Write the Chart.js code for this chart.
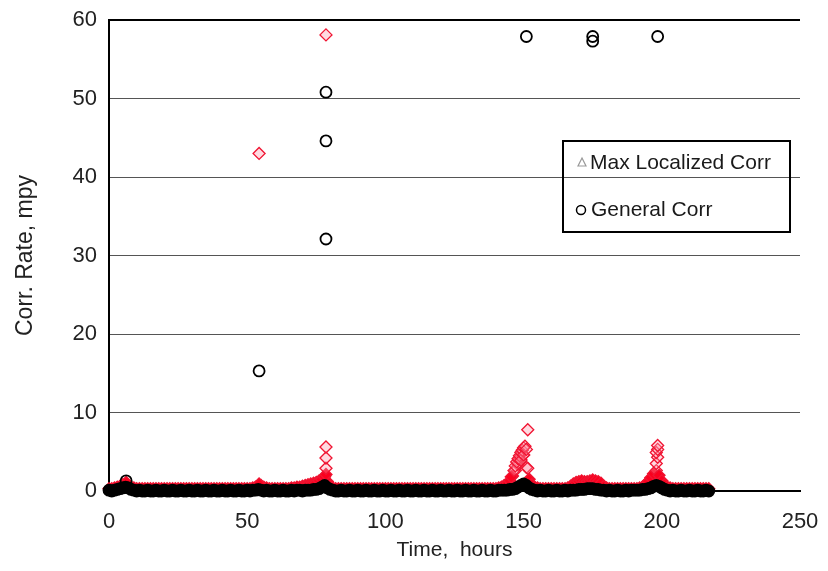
<!DOCTYPE html>
<html>
<head>
<meta charset="utf-8">
<script src="https://cdn.jsdelivr.net/npm/chart.js@4.4.0/dist/chart.umd.min.js"></script>
<style>
  html, body { margin: 0; padding: 0; background: #fff; }
  #wrap { width: 828px; height: 571px; }
</style>
</head>
<body>
<div id="wrap"><canvas id="corrChart" width="828" height="571"></canvas></div>
<script>
// hourly readings, 0 to 217 h
const hours = [
  0,1,2,3,4,5,6,7,8,9, 10,11,12,13,14,15,16,17,18,19, 20,21,22,23,24,25,26,27,28,29,
  30,31,32,33,34,35,36,37,38,39, 40,41,42,43,44,45,46,47,48,49, 50,51,52,53,54,55,56,57,58,59,
  60,61,62,63,64,65,66,67,68,69, 70,71,72,73,74,75,76,77,78,79, 80,81,82,83,84,85,86,87,88,89,
  90,91,92,93,94,95,96,97,98,99, 100,101,102,103,104,105,106,107,108,109, 110,111,112,113,114,115,116,117,118,119,
  120,121,122,123,124,125,126,127,128,129, 130,131,132,133,134,135,136,137,138,139, 140,141,142,143,144,145,146,147,148,149,
  150,151,152,153,154,155,156,157,158,159, 160,161,162,163,164,165,166,167,168,169, 170,171,172,173,174,175,176,177,178,179,
  180,181,182,183,184,185,186,187,188,189, 190,191,192,193,194,195,196,197,198,199, 200,201,202,203,204,205,206,207,208,209,
  210,211,212,213,214,215,216,217];

const generalCorr = [
  0.1,0.0,0.1,0.2,0.3,0.4,0.5,0.4,0.2,0.1, 0.0,0.1,0.0,0.0,0.1,0.0,0.0,0.1,0.0,0.0, 0.1,0.0,0.0,0.1,0.0,0.0,0.1,0.0,0.0,0.1,
  0.0,0.0,0.1,0.0,0.0,0.1,0.0,0.0,0.1,0.0, 0.0,0.1,0.0,0.0,0.1,0.0,0.0,0.1,0.0,0.0, 0.1,0.0,0.1,0.1,0.2,0.1,0.0,0.1,0.0,0.0,
  0.1,0.0,0.0,0.1,0.0,0.0,0.1,0.0,0.1,0.1, 0.0,0.1,0.1,0.1,0.2,0.2,0.3,0.5,0.7,0.4, 0.2,0.1,0.0,0.0,0.1,0.0,0.0,0.1,0.0,0.0,
  0.1,0.0,0.0,0.1,0.0,0.0,0.1,0.0,0.0,0.1, 0.0,0.0,0.1,0.0,0.0,0.1,0.0,0.0,0.1,0.0, 0.0,0.1,0.0,0.0,0.1,0.0,0.0,0.1,0.0,0.0,
  0.1,0.0,0.0,0.1,0.0,0.0,0.1,0.0,0.0,0.1, 0.0,0.0,0.1,0.0,0.0,0.1,0.0,0.0,0.1,0.0, 0.0,0.1,0.1,0.1,0.1,0.2,0.2,0.3,0.5,0.7,
  0.9,0.7,0.4,0.2,0.1,0.0,0.1,0.0,0.0,0.1, 0.0,0.0,0.1,0.0,0.0,0.1,0.0,0.1,0.1,0.1, 0.2,0.2,0.2,0.3,0.3,0.3,0.2,0.2,0.1,0.1,
  0.0,0.1,0.0,0.0,0.1,0.0,0.0,0.1,0.0,0.1, 0.1,0.1,0.1,0.2,0.2,0.3,0.4,0.6,0.7,0.6, 0.4,0.2,0.1,0.0,0.1,0.0,0.0,0.1,0.0,0.0,
  0.1,0.0,0.0,0.1,0.0,0.0,0.1,0.0];

const localizedCorr = [
  0.3,0.3,0.4,0.5,0.6,0.8,0.9,0.7,0.5,0.4, 0.3,0.3,0.3,0.3,0.3,0.3,0.3,0.3,0.3,0.3, 0.3,0.3,0.3,0.3,0.3,0.3,0.3,0.3,0.3,0.3,
  0.3,0.3,0.3,0.3,0.3,0.3,0.3,0.3,0.3,0.3, 0.3,0.3,0.3,0.3,0.3,0.3,0.3,0.3,0.3,0.3, 0.3,0.3,0.4,0.5,0.6,0.7,0.5,0.4,0.3,0.3,
  0.3,0.3,0.3,0.3,0.3,0.3,0.4,0.4,0.5,0.5, 0.6,0.7,0.8,0.9,1.0,1.1,1.3,1.5,1.8,1.2, 0.6,0.4,0.3,0.3,0.3,0.3,0.3,0.3,0.3,0.3,
  0.3,0.3,0.3,0.3,0.3,0.3,0.3,0.3,0.3,0.3, 0.3,0.3,0.3,0.3,0.3,0.3,0.3,0.3,0.3,0.3, 0.3,0.3,0.3,0.3,0.3,0.3,0.3,0.3,0.3,0.3,
  0.3,0.3,0.3,0.3,0.3,0.3,0.3,0.3,0.3,0.3, 0.3,0.3,0.3,0.3,0.3,0.3,0.3,0.3,0.3,0.3, 0.3,0.4,0.5,0.7,0.9,1.3,1.9,2.6,3.3,4.0,
  4.6,3.0,1.5,0.8,0.5,0.4,0.3,0.3,0.3,0.3, 0.3,0.3,0.3,0.3,0.3,0.3,0.4,0.6,0.9,1.1, 1.2,1.3,1.2,1.2,1.3,1.4,1.3,1.2,1.0,0.6,
  0.4,0.3,0.3,0.3,0.3,0.3,0.3,0.3,0.3,0.3, 0.3,0.3,0.4,0.5,0.8,1.2,1.7,2.2,2.6,2.0, 1.3,0.8,0.5,0.4,0.3,0.3,0.3,0.3,0.3,0.3,
  0.3,0.3,0.3,0.3,0.3,0.3,0.3,0.3];

// isolated / excursion readings
const generalSpikeHours = [6.2, 54.3, 78.5, 78.5, 78.5, 151, 175, 175, 198.5];
const generalSpikeCorr  = [1.3, 15.3, 50.8, 44.6, 32.1, 57.9, 57.9, 57.3, 57.9];

const localizedSpikeHours = [6.2, 54.3, 54.3, 78.5, 78.5, 78.5, 78.5, 78.5,
  145.5, 146.5, 147, 147.5, 148, 148.5, 149, 149, 149.5, 150, 150, 150.5, 151, 151.5, 151.5,
  198, 198.5, 198, 198.5, 198.5];
const localizedSpikeCorr = [1.1, 0.9, 43.0, 2.1, 2.9, 4.2, 5.6, 58.1,
  1.8, 2.6, 3.2, 3.7, 4.1, 4.5, 4.9, 3.9, 5.2, 5.5, 4.6, 5.7, 5.3, 7.8, 2.9,
  3.5, 4.3, 4.9, 5.3, 5.8];

const FONT = '"Liberation Sans", Arial, sans-serif';

function toPoints(xs, ys) {
  return xs.map((x, i) => ({ x: x, y: ys[i] }));
}

// legend box drawn inside the plot like the original
const boxLegend = {
  id: 'boxLegend',
  afterDraw(chart) {
    const ctx = chart.ctx;
    ctx.save();
    ctx.strokeStyle = '#000';
    ctx.lineWidth = 2;
    ctx.strokeRect(563, 141, 227, 91);
    ctx.font = '21px ' + FONT;
    ctx.fillStyle = '#1a1a1a';
    ctx.textBaseline = 'middle';
    ctx.fillText('Max Localized Corr', 590, 163);
    ctx.fillText('General Corr', 591, 210);
    // triangle marker
    ctx.strokeStyle = '#999';
    ctx.lineWidth = 1.2;
    ctx.beginPath();
    ctx.moveTo(582, 158);
    ctx.lineTo(586, 166);
    ctx.lineTo(578, 166);
    ctx.closePath();
    ctx.stroke();
    // circle marker
    ctx.strokeStyle = '#000';
    ctx.lineWidth = 1.5;
    ctx.beginPath();
    ctx.arc(581, 210, 4.5, 0, Math.PI * 2);
    ctx.stroke();
    ctx.restore();
  }
};

const data = {
  datasets: [{
    label: 'General Corr',
    data: toPoints(hours, generalCorr).concat(toPoints(generalSpikeHours, generalSpikeCorr)),
    pointStyle: 'circle',
    pointRadius: 5.5,
    pointBorderWidth: 1.8,
    borderColor: '#000',
    backgroundColor: ctx => (ctx.raw && ctx.raw.y < 1) ? '#000' : 'rgba(255,255,255,0)',
    showLine: false,
    clip: false,
    order: 0
  }, {
    label: 'Max Localized Corr',
    data: toPoints(hours, localizedCorr).concat(toPoints(localizedSpikeHours, localizedSpikeCorr)),
    pointStyle: 'rectRot',
    pointRadius: 6,
    pointBorderWidth: 1.3,
    borderColor: 'rgb(240,20,50)',
    backgroundColor: ctx => (ctx.raw && ctx.raw.y < 2.5) ? 'rgb(250,0,30)' : 'rgba(255,150,170,0.35)',
    showLine: false,
    clip: false,
    order: 1
  }]
};

const config = {
  type: 'scatter',
  data: data,
  options: {
    responsive: false,
    animation: false,
    layout: { padding: { left: 8, top: 20, right: 28, bottom: 0 } },
    plugins: {
      legend: { display: false },
      tooltip: { enabled: false }
    },
    scales: {
      x: {
        min: 0, max: 250,
        ticks: { stepSize: 50, color: '#222', font: { family: FONT, size: 22 }, padding: 18 },
        grid: { display: false, drawTicks: false },
        border: { color: '#000', width: 2 },
        title: { display: true, text: 'Time,  hours', color: '#222', font: { family: FONT, size: 21 }, padding: { top: 0, bottom: 8 } },
        afterFit: s => { s.height = 80; s.paddingLeft = 0; s.paddingRight = 0; }
      },
      y: {
        min: 0, max: 60,
        ticks: { stepSize: 10, color: '#222', font: { family: FONT, size: 22 }, padding: 12 },
        grid: {
          color: c => (c.tick && c.tick.value === 60) ? '#000' : '#555',
          lineWidth: c => (c.tick && c.tick.value === 60) ? 2 : 1,
          drawTicks: false
        },
        border: { color: '#000', width: 2 },
        title: { display: true, text: 'Corr. Rate, mpy', color: '#222', font: { family: FONT, size: 23 } },
        afterFit: s => { s.width = 101; s.paddingTop = 0; s.paddingBottom = 0; }
      }
    }
  },
  plugins: [boxLegend]
};

const corrChart = new Chart(document.getElementById('corrChart'), config);
</script>
</body>
</html>
